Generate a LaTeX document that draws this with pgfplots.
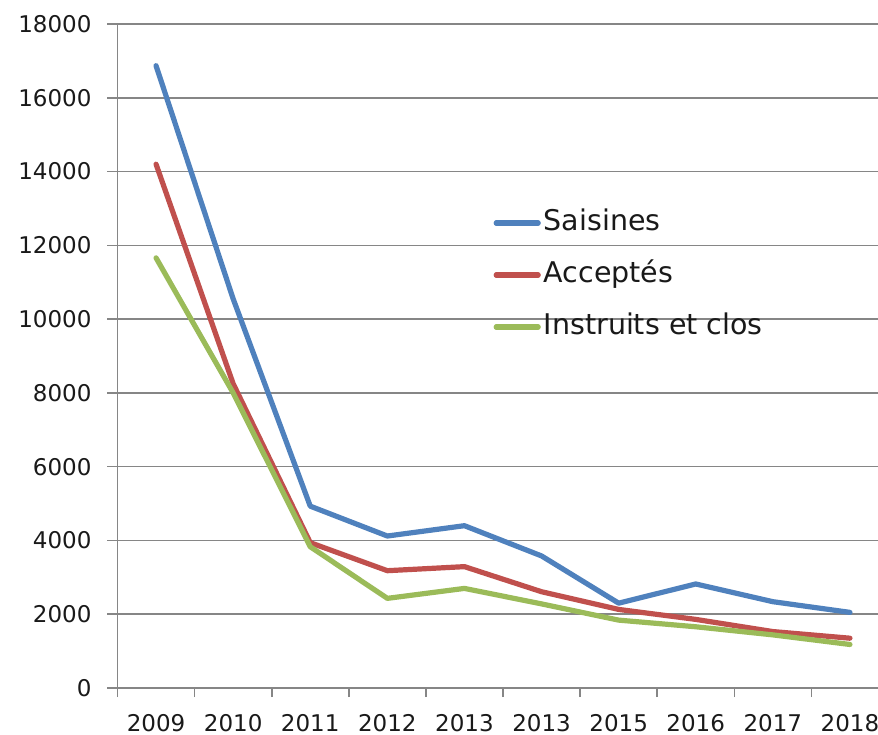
\documentclass[border=0pt]{standalone}
\usepackage{pgfplots}
\pgfplotsset{compat=1.18}
\usepackage{fontspec}
\setmainfont{DejaVu Sans}
\definecolor{saisines}{RGB}{79,129,189}
\definecolor{acceptes}{RGB}{192,80,77}
\definecolor{instruits}{RGB}{155,187,89}
\definecolor{axisgray}{RGB}{134,134,134}

\begin{document}
\begin{tikzpicture}
\begin{axis}[
  scale only axis,
  width=385.5pt,height=332pt,
  xmin=-0.5,xmax=9.5,ymin=0,ymax=18000,
  axis x line*=bottom,axis y line*=left,
  axis line style={draw=axisgray,line width=0.8pt},
  xtick={0,1,2,3,4,5,6,7,8,9},
  xticklabels={2009,2010,2011,2012,2013,2013,2015,2016,2017,2018},
  minor xtick={-0.5,0.5,1.5,2.5,3.5,4.5,5.5,6.5,7.5,8.5,9.5},
  ytick={0,2000,4000,6000,8000,10000,12000,14000,16000,18000},
  scaled y ticks=false,
  tick align=outside,
  major x tick style={draw=none},
  major y tick style={draw=axisgray,line width=0.8pt},
  minor x tick style={draw=axisgray,line width=0.8pt},
  major tick length=5pt,minor tick length=4.5pt,
  ymajorgrids,
  grid style={draw=axisgray,line width=0.75pt},
  /pgf/number format/assume math mode=true,
  /pgf/number format/set thousands separator={},
  tick label style={font=\fontsize{11.5}{13}\selectfont,color=black!90},
  xticklabel style={yshift=-4.5pt},
  yticklabel style={xshift=-4.5pt},
  legend cell align=left,
  legend style={draw=none,fill=none,inner sep=0pt,outer sep=0pt,
    at={(axis cs:4.378,11195)},anchor=west,
    font=\fontsize{14.25}{17}\selectfont,text=black!90,
    nodes={inner sep=0pt,text height=11pt,text depth=3.5pt},
    row sep=11.5pt,
    /tikz/every odd column/.append style={column sep=1.5pt}},
  legend image code/.code={\draw[#1,line cap=round] (0pt,0pt) -- (21pt,0pt);},
  every axis plot/.append style={line width=2.6pt,line join=round,line cap=round},
]
\addplot[color=saisines] coordinates
  {(0,16870)(1,10550)(2,4930)(3,4120)(4,4400)(5,3580)(6,2300)(7,2820)(8,2340)(9,2050)};
\addlegendentry{Saisines}
\addplot[color=acceptes] coordinates
  {(0,14200)(1,8250)(2,3940)(3,3180)(4,3290)(5,2610)(6,2130)(7,1860)(8,1530)(9,1350)};
\addlegendentry{Acceptés}
\addplot[color=instruits] coordinates
  {(0,11660)(1,8000)(2,3830)(3,2430)(4,2700)(5,2280)(6,1840)(7,1660)(8,1440)(9,1180)};
\addlegendentry{Instruits et clos}
\end{axis}
\pgfresetboundingbox
\path (-58.75pt,-23pt) rectangle (380.25pt,344pt);
\end{tikzpicture}
\end{document}
